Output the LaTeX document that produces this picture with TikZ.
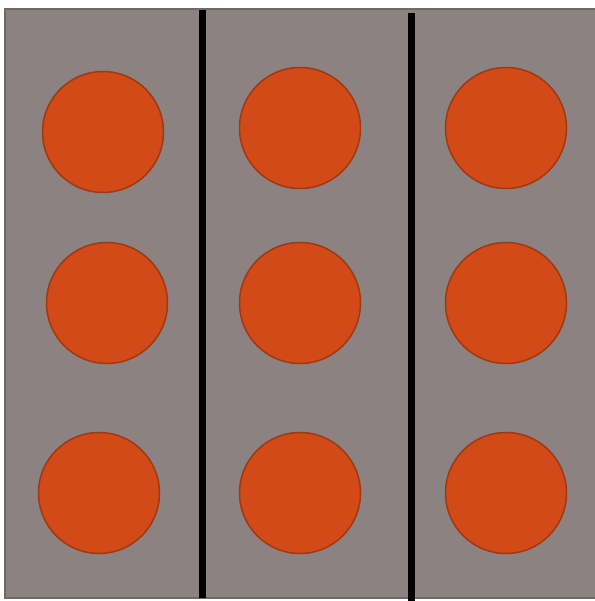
\documentclass[tikz,border=0pt]{standalone}
\usepackage{tikz}
\usetikzlibrary{positioning}
\definecolor{panelgray}{RGB}{140, 130, 130}
\definecolor{paneledge}{RGB}{110, 104, 104}
\definecolor{dotorange}{RGB}{210, 74, 23}
\definecolor{dotedge}{RGB}{160, 56, 16}

\begin{document}
\begin{tikzpicture}[
    x=1pt, y=-1pt,
    dot/.style={circle, minimum size=121pt, inner sep=0pt, draw=dotedge, fill=dotorange, line width=1.5pt},
    divider/.style={line width=7pt, black}
]
\useasboundingbox (0,0) rectangle (594,601);

% Panel
\draw[fill=panelgray, draw=paneledge, line width=2pt] (5,9) rectangle (598,598);

% Dividers
\coordinate (d1top) at (202,10);
\coordinate (d1bot) at (202,598);
\coordinate (d2top) at (411,13);
\coordinate (d2bot) at (411,601);
\draw[divider] (d1top) -- (d1bot);
\draw[divider] (d2top) -- (d2bot);

% Top row
\node[dot] (dotA1) at (103,132) {};
\node[dot] (dotA2) at (300,128) {};
\node[dot] (dotA3) at (506,128) {};

% Middle row
\node[dot] (dotB1) at (107,303) {};
\node[dot] (dotB2) at (300,303) {};
\node[dot] (dotB3) at (506,303) {};

% Bottom row
\node[dot] (dotC1) at (99,493) {};
\node[dot] (dotC2) at (300,493) {};
\node[dot] (dotC3) at (506,493) {};

\end{tikzpicture}
\end{document}
